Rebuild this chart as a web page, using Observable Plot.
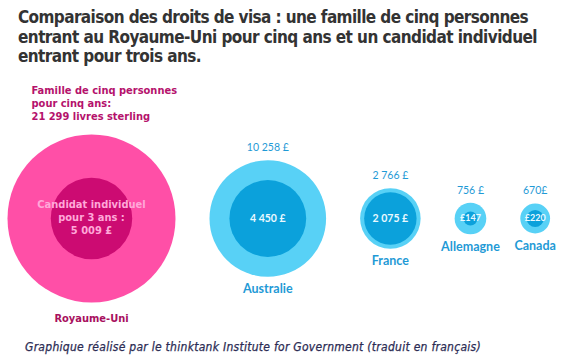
<!DOCTYPE html>
<html>
<head>
<meta charset="utf-8">
<script src="https://cdn.jsdelivr.net/npm/d3@7"></script>
<script src="https://cdn.jsdelivr.net/npm/@observablehq/plot@0.6"></script>
<style>
  html, body { margin: 0; padding: 0; background: #ffffff; }
  body { width: 579px; height: 364px; overflow: hidden; }
  #title {
    box-sizing: border-box; height: 66px; padding: 8px 0 0 18px;
    font-family: "DejaVu Sans Condensed", "DejaVu Sans", sans-serif;
    font-weight: bold; font-size: 17px; line-height: 19.5px; color: #333333;
    white-space: nowrap;
  }
  #title span, #caption span { display: inline-block; }
  #chart svg { display: block; }
  #caption {
    height: 30px; box-sizing: border-box; padding: 6px 0 0 25px;
    font-family: "DejaVu Sans Condensed", "DejaVu Sans", sans-serif;
    font-style: italic; font-size: 12px; color: #2c2c54; white-space: nowrap;
    -webkit-text-stroke: 0.25px #2c2c54;
  }
</style>
</head>
<body>
<div id="title"><span data-w="510">Comparaison des droits de visa : une famille de cinq personnes</span><br><span data-w="519">entrant au Royaume-Uni pour cinq ans et un candidat individuel</span><br><span data-w="183">entrant pour trois ans.</span></div>
<div id="chart"></div>
<div id="caption"><span data-w="456">Graphique réalisé par le thinktank Institute for Government (traduit en français)</span></div>
<script>
// ---- data ----
const countries   = ["Royaume-Uni", "Australie", "France", "Allemagne", "Canada"];
const familyFees  = [21299, 10258, 2766, 756, 670];   // famille de cinq, cinq ans (£)
const singleFees  = [5009, 4450, 2075, 147, 220];      // candidat individuel, trois ans (£)
const familyLabels = ["Famille de cinq personnes\npour cinq ans:\n21 299 livres sterling", "10 258 £", "2 766 £", "756 £", "670£"];
const singleLabels = ["Candidat individuel\npour 3 ans :\n5 009 £", "4 450 £", "2 075 £", "£147", "£220"];
const highlight = "Royaume-Uni";

// fit the text lines to the widths of the original typesetting
document.querySelectorAll("[data-w]").forEach(el => {
  const target = +el.dataset.w;
  const w = el.getBoundingClientRect().width;
  const n = el.textContent.length;
  el.style.letterSpacing = ((target - w) / n) + "px";
});

// ---- layout ----
const W = 579, H = 268, rMax = 84, gap = 34, firstCenter = 91, centerY = 152;
const k = rMax / Math.sqrt(d3.max(familyFees));   // px per sqrt(£)

const data = countries.map((c, i) => ({
  country: c, family: familyFees[i], single: singleFees[i],
  familyLabel: familyLabels[i], singleLabel: singleLabels[i],
  u: Math.sqrt(familyFees[i])
}));
// pack circles left to right, separated by a constant gap
data.forEach((d, i) => {
  d.pos = i === 0 ? firstCenter / k : data[i - 1].pos + data[i - 1].u + gap / k + d.u;
});

const uk = data.filter(d => d.country === highlight);
const others = data.filter(d => d.country !== highlight);

const pinkOuter = "#ff4fa7", pinkInner = "#cc0b72", pinkText = "#b5126c", pinkLight = "#ffa8d9";
const blueOuter = "#58d1f6", blueInner = "#0ba1db", blueText = "#1f9ad6", blueLight = "#eaf9ff";
const tahoma = "'DejaVu Sans Condensed', 'DejaVu Sans', sans-serif";
const calibri = "Lato, 'Open Sans', sans-serif";

const chart = Plot.plot({
  width: W, height: H,
  marginLeft: 0, marginRight: 0, marginTop: 0, marginBottom: 0,
  x: { type: "linear", domain: [0, W / k], range: [0, W], axis: null },
  y: { type: "linear", domain: [-centerY / k, (H - centerY) / k], range: [0, H], axis: null },
  r: { type: "sqrt", domain: [0, d3.max(familyFees)], range: [0, rMax] },
  marks: [
    Plot.dot(uk, { x: "pos", y: 0, r: "family", fill: pinkOuter, stroke: null }),
    Plot.dot(uk, { x: "pos", y: 0, r: "single", fill: pinkInner, stroke: null }),
    Plot.dot(others, { x: "pos", y: 0, r: "family", fill: blueOuter, stroke: null }),
    Plot.dot(others, { x: "pos", y: 0, r: "single", fill: blueInner, stroke: null }),
    // UK annotation above
    Plot.text(uk, { x: "pos", y: d => -d.u, text: "familyLabel", textAnchor: "start", lineAnchor: "bottom",
      dx: -60, dy: -15, lineHeight: 1.18, fill: pinkText, fontWeight: "bold", fontSize: 11, fontFamily: tahoma }),
    // UK inner label
    Plot.text(uk, { x: "pos", y: 0, text: "singleLabel", lineHeight: 1.18, dy: -2,
      fill: pinkLight, fontWeight: "bold", fontSize: 11, fontFamily: tahoma }),
    // UK country label
    Plot.text(uk, { x: "pos", y: d => d.u, text: "country", dy: 16,
      fill: "#a8105e", fontWeight: "bold", fontSize: 11, fontFamily: tahoma }),
    // other: values above
    Plot.text(others, { x: "pos", y: d => -d.u, text: "familyLabel", dy: -12.5,
      fill: blueText, fontSize: 10.5, fontFamily: calibri }),
    // inner values
    Plot.text(others, { x: "pos", y: 0, text: "singleLabel",
      fill: blueLight, fontWeight: "bold", fontSize: d => d.single < 500 ? 9 : 10.5, fontFamily: calibri }),
    // country labels
    Plot.text(others, { x: "pos", y: d => d.u, text: "country", dy: 12.5,
      fill: blueText, fontWeight: "bold", fontSize: 12.5, fontFamily: calibri })
  ]
});
document.getElementById("chart").appendChild(chart);
</script>
</body>
</html>
